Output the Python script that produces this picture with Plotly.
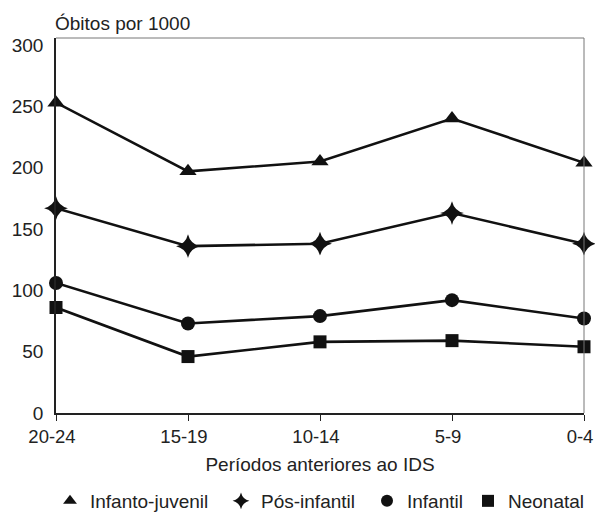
import plotly.graph_objects as go

periods = ["20-24", "15-19", "10-14", "5-9", "0-4"]
infanto_juvenil = [253, 197, 205, 240, 204]
pos_infantil = [167, 136, 138, 163, 138]
infantil = [106, 73, 79, 92, 77]
neonatal = [86, 46, 58, 59, 54]

series = [
    ("Infanto-juvenil", infanto_juvenil, "triangle-up", 15),
    ("Pós-infantil", pos_infantil, "star-diamond", 17),
    ("Infantil", infantil, "circle", 14),
    ("Neonatal", neonatal, "square", 13),
]

FONT = "Liberation Sans, Arial, Helvetica, sans-serif"
FS = 19
W, H = 595, 512
L, T, R, B = 56, 38, 11, 99
PW = W - L - R
PH = H - T - B

legend_marker_px = [70, 241, 387, 488]  # marker centres in page pixels

fig = go.Figure()
for name, vals, sym, sz in series:
    fig.add_trace(go.Scatter(
        x=periods, y=vals, mode="lines+markers", name=name, showlegend=False,
        line=dict(color="#111", width=2.6),
        marker=dict(symbol=sym, size=sz, color="#111"),
        cliponaxis=False,
    ))
legend_ids = ["legend", "legend2", "legend3", "legend4"]
for (name, vals, sym, sz), lid in zip(series, legend_ids):
    fig.add_trace(go.Scatter(
        x=[None], y=[None], mode="markers", name=name, showlegend=True, legend=lid,
        marker=dict(symbol=sym, size=sz - 1, color="#111"),
    ))

legend_y = -(501 - (H - B)) / PH
layout_legends = {}
for lid, mx in zip(legend_ids, legend_marker_px):
    layout_legends[lid] = dict(
        x=(mx - 20 - L) / PW, xanchor="left", y=legend_y, yanchor="middle",
        orientation="h", font=dict(size=FS, family=FONT, color="#222"),
        itemsizing="constant", itemwidth=30, bgcolor="rgba(0,0,0,0)",
        borderwidth=0,
    )

fig.update_layout(
    width=W, height=H,
    margin=dict(l=L, r=R, t=T, b=B, pad=0, autoexpand=False),
    plot_bgcolor="white", paper_bgcolor="white",
    font=dict(family=FONT, size=FS, color="#222"),
    showlegend=True,
    xaxis=dict(
        type="category", range=[0, 4], showgrid=False, zeroline=False, automargin=False,
        showline=True, linecolor="#222", linewidth=1.5,
        ticks="outside", ticklen=6, tickcolor="#222",
        tickfont=dict(size=18.5), ticklabelshift=-4,
        title=dict(text="Períodos anteriores ao IDS", font=dict(size=FS), standoff=12),
    ),
    yaxis=dict(
        range=[0, 305.7], tickvals=[0, 50, 100, 150, 200, 250, 300], automargin=False,
        showgrid=False, zeroline=False, showline=True, linecolor="#222", linewidth=1.5,
        ticks="", tickfont=dict(size=FS), ticklabelstandoff=7,
    ),
    annotations=[dict(text="Óbitos por 1000", xref="paper", yref="paper", x=0, y=1.0,
                      xanchor="left", yanchor="bottom", yshift=2, xshift=-3, showarrow=False,
                      font=dict(size=FS, color="#222"))],
    shapes=[
        dict(type="line", xref="paper", yref="paper", x0=0, x1=1, y0=1, y1=1,
             line=dict(color="#777", width=1)),
        dict(type="line", xref="paper", yref="paper", x0=1, x1=1, y0=0, y1=1,
             line=dict(color="#777", width=1)),
    ],
    **layout_legends,
)
fig.write_html("out.html", config={"displayModeBar": False},
               post_script="document.body.style.margin='0';document.body.style.overflow='hidden';")
